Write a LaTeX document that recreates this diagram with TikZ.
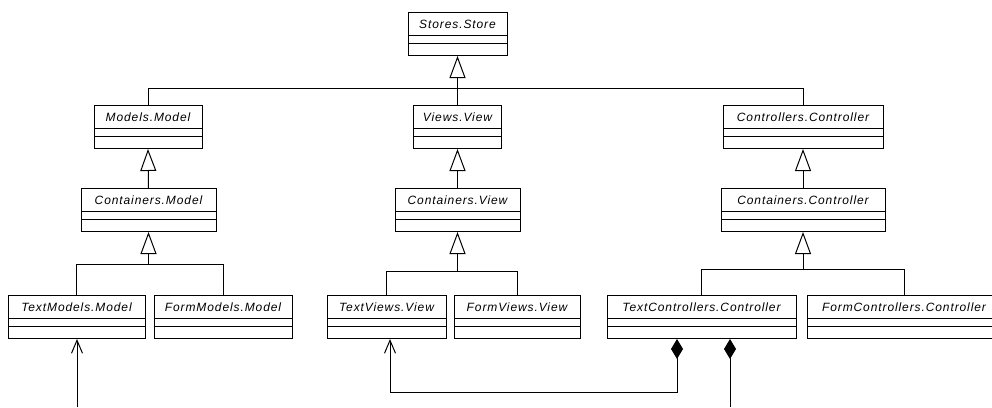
\documentclass[tikz,border=0pt]{standalone}
\usepackage{fontspec}
\usetikzlibrary{arrows.meta}
\newfontfamily\umlfont[LetterSpace=7.5]{Liberation Sans}

\tikzset{
  cls/.style={draw, fill=white, anchor=north, inner sep=0pt,
    minimum width=#1, minimum height=43pt, text height=16pt, text depth=27pt,
    font=\umlfont\itshape\fontsize{12pt}{14pt}\selectfont,
    path picture={
      \draw ([yshift=-23pt]path picture bounding box.north west) -- ([yshift=-23pt]path picture bounding box.north east)
            ([yshift=-31pt]path picture bounding box.north west) -- ([yshift=-31pt]path picture bounding box.north east);
    }},
  inherit/.style={-{Triangle[open, length=22pt, width=16pt, fill=white]}},
  owner/.tip={Diamond[length=20pt, width=12pt]},
}

\begin{document}
\begin{tikzpicture}[x=1pt, y=-1pt, line width=1pt, >={Straight Barb[length=13pt, width=11pt]}]
\useasboundingbox (0,0) rectangle (992,407);

\node (store) at (457.5,12) [cls=99pt] {Stores.Store};

\node (mdl) at (148,105) [cls=108pt] {Models.Model};
\node (view) at (457.5,105) [cls=88pt] {Views.View};
\node (ctrl) at (803,105) [cls=160pt] {Controllers.Controller};

\node (cmdl) at (148.5,188) [cls=135pt] {Containers.Model};
\node (cview) at (457.5,188) [cls=125pt] {Containers.View};
\node (cctrl) at (803,188) [cls=164pt] {Containers.Controller};

\node (tmdl) at (76.5,295) [cls=137pt] {TextModels.Model};
\node (fmdl) at (223,295) [cls=138pt] {FormModels.Model};
\node (tview) at (386.5,295) [cls=119pt] {TextViews.View};
\node (fview) at (517,295) [cls=126pt] {FormViews.View};
\node (tctrl) at (701.5,295) [cls=189pt] {TextControllers.Controller};
\node (fctrl) at (904,295) [cls=194pt] {FormControllers.Controller};

\coordinate (storehub) at (457.5,88);
\coordinate (mdlhub) at (148.5,264);
\coordinate (viewhub) at (457.5,271);
\coordinate (ctrlhub) at (803,269);

% generalisation
\draw [inherit] (mdl.north) |- (storehub) -- (store.south);
\draw (ctrl.north) |- (storehub);
\draw (view.north) -- (storehub);

\draw [inherit] (cmdl.north) -- (mdl.south);
\draw [inherit] (cview.north) -- (view.south);
\draw [inherit] (cctrl.north) -- (ctrl.south);

\draw [inherit] (tmdl.north) |- (mdlhub) -- (cmdl.south);
\draw (fmdl.north) |- (mdlhub);
\draw [inherit] (tview.north) |- (viewhub) -- (cview.south);
\draw (fview.north) |- (viewhub);
\draw [inherit] (tctrl.north) |- (ctrlhub) -- (cctrl.south);
\draw (fctrl.north) |- (ctrlhub);

% associations
\coordinate (mdlin) at (77,407);
\coordinate (bend) at (390,392);
\coordinate (ctrlout) at (730,407);

\draw [->] (mdlin) -- (mdlin |- tmdl.south);
\draw [owner->] ([xshift=-24.5pt]tctrl.south) |- (bend) -- (bend |- tview.south);
\draw [owner-] (ctrlout |- tctrl.south) -- (ctrlout);

\end{tikzpicture}
\end{document}
